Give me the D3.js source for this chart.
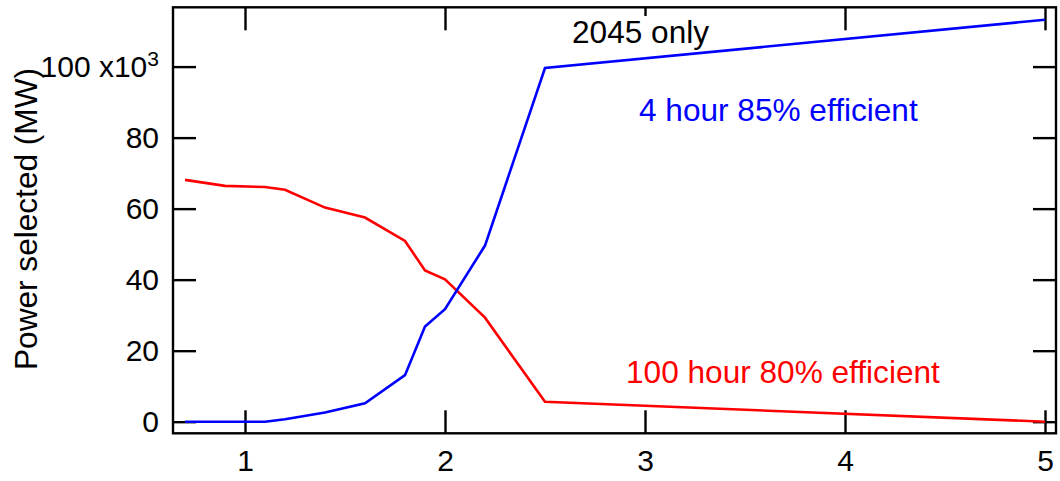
<!DOCTYPE html>
<html>
<head>
<meta charset="utf-8">
<script src="https://cdn.jsdelivr.net/npm/d3@7"></script>
<style>
  body { margin: 0; background: #fff; }
  svg text { font-family: "Liberation Sans", Arial, Helvetica, sans-serif; }
</style>
</head>
<body>
<div id="chart"></div>
<script>
// storage duration (hours?) on x, selected power on y
const durations = [0.7, 0.9, 1.1, 1.2, 1.4, 1.6, 1.8, 1.9, 2.0, 2.2, 2.5, 5];
const hour100 = [68.1, 66.4, 66.1, 65.3, 60.3, 57.5, 50.9, 42.6, 40.1, 29.3, 5.6, 0];
const hour4 = [0, 0, 0, 0.7, 2.6, 5.2, 13.1, 26.8, 31.7, 49.6, 99.6, 113.2];
const xTicks = [1, 2, 3, 4, 5];
const yTicks = [0, 20, 40, 60, 80, 100];

const width = 1060;
const height = 481;
const frame = {left: 173, right: 1056, top: 7.3, bottom: 433.3};

const svg = d3.select("#chart").append("svg")
    .attr("width", width).attr("height", height);

const x = d3.scaleLinear().domain([0.64, 5.055]).range([frame.left, frame.right]);
const y = d3.scaleLinear().domain([-3.27, 116.7]).range([frame.bottom, frame.top]);

const tickLen = 23;

// ticks point inward on all four sides
svg.append("g")
    .attr("transform", `translate(0,${frame.bottom})`)
    .call(d3.axisBottom(x).tickValues(xTicks).tickSizeInner(-tickLen).tickSizeOuter(0).tickPadding(16.5).tickFormat(d3.format("d")))
    .call(g => g.select(".domain").remove());

svg.append("g")
    .attr("transform", `translate(0,${frame.top})`)
    .call(d3.axisTop(x).tickValues(xTicks).tickSizeInner(-tickLen).tickSizeOuter(0).tickFormat(""))
    .call(g => g.select(".domain").remove());

svg.append("g")
    .attr("transform", `translate(${frame.left},0)`)
    .call(d3.axisLeft(y).tickValues(yTicks).tickSizeInner(-tickLen).tickSizeOuter(0).tickPadding(14).tickFormat(d3.format("d")))
    .call(g => g.select(".domain").remove())
    .call(g => g.selectAll(".tick text").filter(d => d === 100).each(function() {
        const t = d3.select(this).text("");
        t.append("tspan").text("100 x10");
        t.append("tspan").attr("font-size", 21).attr("dy", -11).text("3");
    }));

svg.append("g")
    .attr("transform", `translate(${frame.right},0)`)
    .call(d3.axisRight(y).tickValues(yTicks).tickSizeInner(-tickLen).tickSizeOuter(0).tickFormat(""))
    .call(g => g.select(".domain").remove());

svg.selectAll(".tick line").attr("stroke", "#000").attr("stroke-width", 2.4);
svg.selectAll(".tick text").attr("font-size", 30).attr("fill", "#000")
    .attr("font-family", "'Liberation Sans', Arial, Helvetica, sans-serif");

svg.append("rect")
    .attr("x", frame.left).attr("y", frame.top)
    .attr("width", frame.right - frame.left).attr("height", frame.bottom - frame.top)
    .attr("fill", "none").attr("stroke", "#000").attr("stroke-width", 2.4);

const line = d3.line().x(d => x(d[0])).y(d => y(d[1]));

svg.append("path")
    .datum(d3.zip(durations, hour100))
    .attr("d", line)
    .attr("fill", "none").attr("stroke", "#ff0000").attr("stroke-width", 2.6);

svg.append("path")
    .datum(d3.zip(durations, hour4))
    .attr("d", line)
    .attr("fill", "none").attr("stroke", "#0000ff").attr("stroke-width", 2.6);

// annotations
const note = svg.append("text")
    .attr("x", 572).attr("y", 43)
    .attr("font-size", 31.6).attr("fill", "#000")
    .text("2045 only");
const bb = note.node().getBBox();
svg.insert("rect", () => note.node())
    .attr("x", bb.x - 2).attr("y", bb.y + 2)
    .attr("width", bb.width + 4).attr("height", bb.height - 4)
    .attr("fill", "#fff");

svg.append("text")
    .attr("x", 639).attr("y", 120.7)
    .attr("font-size", 31.6).attr("fill", "#0000ff")
    .text("4 hour 85% efficient");

svg.append("text")
    .attr("x", 626).attr("y", 383.3)
    .attr("font-size", 31.6).attr("fill", "#ff0000")
    .text("100 hour 80% efficient");

svg.append("text")
    .attr("transform", "translate(37,219) rotate(-90)")
    .attr("text-anchor", "middle")
    .attr("font-size", 31.6).attr("fill", "#000")
    .text("Power selected (MW)");
</script>
</body>
</html>
